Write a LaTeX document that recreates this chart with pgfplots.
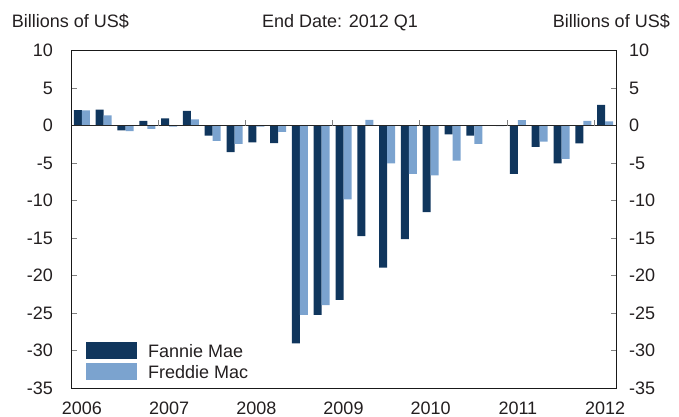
\documentclass[border=0pt]{standalone}
\usepackage{fontspec}
\setmainfont{Liberation Sans}
\usepackage{pgfplots}
\usepackage{pgfplotstable}
\pgfplotsset{compat=1.18}
\definecolor{fannie}{HTML}{10365D}
\definecolor{freddie}{HTML}{7BA3CF}
\definecolor{txt}{HTML}{231F20}
\pgfplotstableread{
q fannie freddie
0 2.1 2.05
1 2.15 1.4
2 -0.6 -0.7
3 0.65 -0.4
4 1.0 -0.1
5 2.0 0.85
6 -1.3 -2.0
7 -3.5 -2.4
8 -2.2 -0.1
9 -2.3 -0.8
10 -29.0 -25.2
11 -25.2 -23.9
12 -23.2 -9.8
13 -14.7 0.8
14 -18.9 -5.0
15 -15.1 -6.4
16 -11.5 -6.6
17 -1.15 -4.65
18 -1.3 -2.4
19 0.0 -0.05
20 -6.4 0.75
21 -2.8 -2.1
22 -5.0 -4.4
23 -2.35 0.65
24 2.8 0.6
}\gsedata
\newcommand{\lblfont}{\fontsize{18bp}{21bp}\selectfont}
\begin{document}
\begin{tikzpicture}[font=\lblfont, text=txt]
\path (-71bp,-28.7bp) rectangle (608bp,388.3bp);
\begin{axis}[
  at={(0,0)}, anchor=south west,
  scale only axis, width=545bp, height=337.5bp,
  xmin=-0.5, xmax=24.5, ymin=-35, ymax=10,
  ybar=0pt, bar width=0.367,
  axis line style={line width=0.9bp, color=black!90},
  xtick={0,4,...,24},
  xticklabels={2006,2007,2008,2009,2010,2011,2012},
  xtick style={draw=none},
  ytick={-35,-30,...,10},
  yticklabels={-35,-30,-25,-20,-15,-10,-5,0,5,10},
  ytick pos=both, yticklabel pos=left,
  tick align=inside, major tick length=5.5bp,
  ytick style={color=gray, line width=0.8bp},
  /pgf/number format/assume math mode=true,
  tick label style={font=\lblfont, text=txt},
  yticklabel style={anchor=east, inner sep=0pt, xshift=-18bp},
  xticklabel style={anchor=base, inner sep=0pt, yshift=-26.3bp},
  legend style={draw=none, fill=none, at={(axis description cs:0.0275,0.138)},
    anchor=north west, inner sep=0pt, row sep=4.4bp, column sep=11bp,
    nodes={inner sep=0pt}, font=\lblfont, text=txt},
  legend cell align=left,
  legend image code/.code={\fill[#1] (0bp,-6.8bp) rectangle (51bp,9.8bp);},
]
\addplot[fill=fannie, draw=none] table[x=q, y=fannie] {\gsedata};
\addlegendentry{Fannie Mae}
\addplot[fill=freddie, draw=none] table[x=q, y=freddie] {\gsedata};
\addlegendentry{Freddie Mac}
\draw[line width=1.2bp, color=black!85] (axis cs:-0.5,0) -- (axis cs:24.5,0);
\draw[gray, line width=0.8bp] (axis cs:3.5,0) -- ([yshift=5.5bp]axis cs:3.5,0);
\draw[gray, line width=0.8bp] (axis cs:7.5,0) -- ([yshift=5.5bp]axis cs:7.5,0);
\draw[gray, line width=0.8bp] (axis cs:11.5,0) -- ([yshift=5.5bp]axis cs:11.5,0);
\draw[gray, line width=0.8bp] (axis cs:15.5,0) -- ([yshift=5.5bp]axis cs:15.5,0);
\draw[gray, line width=0.8bp] (axis cs:19.5,0) -- ([yshift=5.5bp]axis cs:19.5,0);
\draw[gray, line width=0.8bp] (axis cs:23.5,0) -- ([yshift=5.5bp]axis cs:23.5,0);
\end{axis}
\begin{axis}[
  at={(0,0)}, anchor=south west,
  scale only axis, width=545bp, height=337.5bp,
  xmin=-0.5, xmax=24.5, ymin=-35, ymax=10,
  axis x line=none, axis y line*=right,
  axis line style={draw=none},
  ytick={-35,-30,...,10},
  yticklabels={-35,-30,-25,-20,-15,-10,-5,0,5,10},
  ytick style={draw=none},
  tick label style={font=\lblfont, text=txt},
  yticklabel style={anchor=west, inner sep=0pt, xshift=13bp},
]
\end{axis}
\node[anchor=base west, inner sep=0pt] at (-59.3bp,360.3bp) {Billions of US\$};
\node[anchor=base, inner sep=0pt] at (269bp,360.3bp) {End Date: 2012 Q1};
\node[anchor=base east, inner sep=0pt] at (599bp,360.3bp) {Billions of US\$};
\end{tikzpicture}
\end{document}
